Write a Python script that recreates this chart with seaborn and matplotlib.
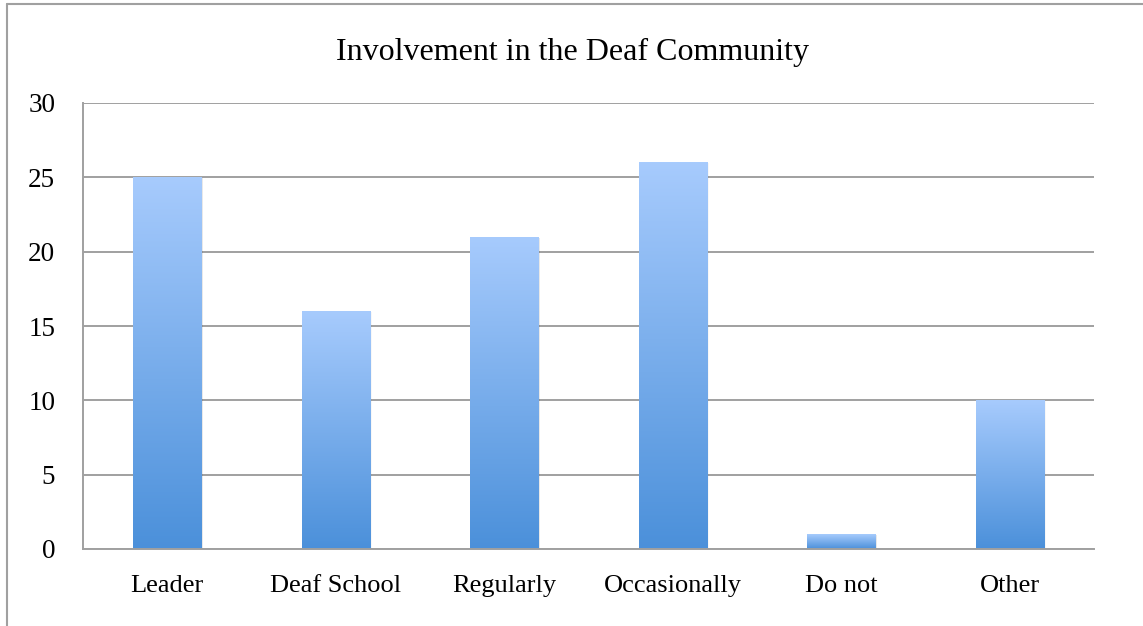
import numpy as np
import pandas as pd
import matplotlib
matplotlib.use("Agg")
import matplotlib.pyplot as plt
import seaborn as sns
from matplotlib.colors import LinearSegmentedColormap
from matplotlib.lines import Line2D
from matplotlib.patches import Rectangle

categories = ["Leader", "Deaf School", "Regularly", "Occasionally", "Do not", "Other"]
values = [25, 16, 21, 26, 1, 10]
y_ticks = [0, 5, 10, 15, 20, 25, 30]
title = "Involvement in the Deaf Community"

sns.set_theme(style="white")
plt.rcParams["font.family"] = ["Liberation Serif", "DejaVu Serif"]
plt.rcParams["text.color"] = "black"
plt.rcParams["xtick.labelcolor"] = "black"
plt.rcParams["ytick.labelcolor"] = "black"

fig = plt.figure(figsize=(11.43, 6.26), dpi=100)
ax = fig.add_axes([83 / 1143, 1 - 549 / 626, (1094 - 83) / 1143, (549 - 103) / 626])

df = pd.DataFrame({"cat": categories, "val": values})
sns.barplot(data=df, x="cat", y="val", ax=ax, width=0.405, color="#7fb0ee", zorder=3)

cmap = LinearSegmentedColormap.from_list("g", ["#4b90da", "#a7cbfd"])
grad = np.linspace(0, 1, 256).reshape(-1, 1)
for p in list(ax.patches):
    x0, y0 = p.get_x(), p.get_y()
    w, h = p.get_width(), p.get_height()
    p.set_facecolor("none")
    p.set_edgecolor("none")
    # soft shadow
    for i, a in enumerate([0.10, 0.06, 0.03]):
        sh = Rectangle((x0 + 0.004 * (i + 1), y0), w, h - 0.05, facecolor="#000000",
                       alpha=a, edgecolor="none", zorder=2)
        ax.add_patch(sh)
    im = ax.imshow(grad, cmap=cmap, origin="lower", aspect="auto",
                   extent=[x0, x0 + w, y0, y0 + h], zorder=4)
    im.set_clip_path(p)

ax.set_xlim(-0.5, len(categories) - 0.5)
ax.set_ylim(0, 30)
ax.set_yticks(y_ticks)
ax.set_yticklabels([str(t) for t in y_ticks], fontsize=19.5, color="black")
ax.set_xticks(range(len(categories)))
ax.set_xticklabels(categories, fontsize=19, color="black")
ax.set_xticks(np.arange(-0.5, len(categories), 1.0), minor=True)
ax.tick_params(axis="x", which="major", length=0, pad=19)
ax.tick_params(axis="x", which="minor", length=7, width=1.3, color="#a0a0a0", direction="out")
ax.tick_params(axis="y", which="major", length=7, width=1.3, color="#a0a0a0", direction="out", pad=13)
ax.set_xlabel("")
ax.set_ylabel("")

ax.grid(axis="y", color="#a0a0a0", linewidth=1.4, zorder=0)
ax.set_axisbelow(True)
for s in ["top", "right"]:
    ax.spines[s].set_visible(False)
for s in ["left", "bottom"]:
    ax.spines[s].set_color("#a0a0a0")
    ax.spines[s].set_linewidth(1.4)
ax.spines["bottom"].set_zorder(5)

fig.text(573 / 1143, 1 - 52 / 626, title, ha="center", va="center", fontsize=23, color="black")

# outer frame (top and left)
fig.add_artist(Line2D([7 / 1143, 1.0], [1 - 4 / 626, 1 - 4 / 626], color="#a0a0a0", lw=1.5,
                      transform=fig.transFigure))
fig.add_artist(Line2D([7 / 1143, 7 / 1143], [0, 1 - 4 / 626], color="#a0a0a0", lw=1.5,
                      transform=fig.transFigure))

fig.savefig("out.png", dpi=100, facecolor="white")
